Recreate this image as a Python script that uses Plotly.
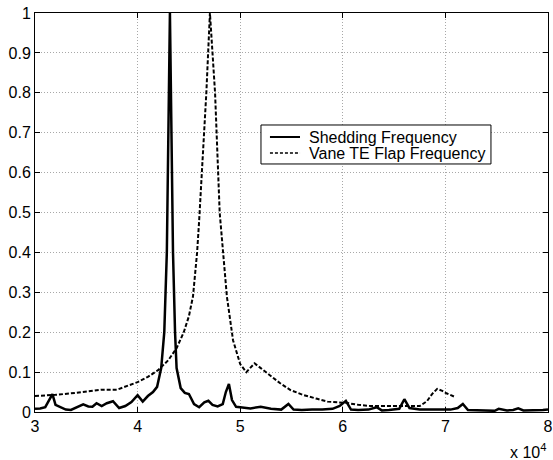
import plotly.graph_objects as go

# Frequency axis in units of 10^4
shed_freq = [3.0, 3.05, 3.1, 3.14, 3.17, 3.2, 3.25, 3.3, 3.35, 3.4, 3.47, 3.52, 3.56, 3.6,
             3.65, 3.7, 3.76, 3.82, 3.88, 3.94, 4.0, 4.05, 4.1, 4.15, 4.19, 4.23, 4.26,
             4.285, 4.3, 4.315, 4.33, 4.345, 4.365, 4.38, 4.42, 4.46, 4.5, 4.55, 4.6,
             4.65, 4.69, 4.73, 4.78, 4.83, 4.86, 4.89, 4.92, 4.96, 5.0, 5.1, 5.2, 5.3,
             5.4, 5.47, 5.52, 5.6, 5.7, 5.8, 5.9, 5.97, 6.03, 6.08, 6.15, 6.25, 6.33,
             6.38, 6.45, 6.55, 6.6, 6.65, 6.75, 6.85, 6.95, 7.05, 7.12, 7.17, 7.22, 7.3,
             7.4, 7.48, 7.52, 7.6, 7.66, 7.71, 7.76, 7.85, 7.95, 8.0]
shed_amp = [0.008, 0.009, 0.012, 0.03, 0.045, 0.018, 0.012, 0.006, 0.005, 0.01, 0.019,
            0.014, 0.013, 0.022, 0.015, 0.022, 0.027, 0.01, 0.015, 0.025, 0.042, 0.026,
            0.04, 0.05, 0.063, 0.11, 0.2, 0.4, 0.7, 1.0, 0.7, 0.4, 0.2, 0.11, 0.06,
            0.048, 0.045, 0.02, 0.012, 0.024, 0.028, 0.018, 0.014, 0.02, 0.05, 0.07,
            0.03, 0.013, 0.012, 0.009, 0.013, 0.008, 0.006, 0.02, 0.006, 0.005, 0.006,
            0.006, 0.008, 0.015, 0.028, 0.006, 0.005, 0.006, 0.012, 0.004, 0.005, 0.008,
            0.032, 0.01, 0.006, 0.006, 0.005, 0.006, 0.01, 0.02, 0.005, 0.004, 0.003,
            0.003, 0.008, 0.004, 0.005, 0.009, 0.004, 0.004, 0.005, 0.006]

flap_freq = [3.0, 3.2, 3.4, 3.6, 3.65, 3.8, 3.9, 4.0, 4.1, 4.2, 4.3, 4.38, 4.45, 4.5,
             4.54, 4.58, 4.6, 4.67, 4.705, 4.755, 4.8, 4.83, 4.87, 4.93, 5.0, 5.06,
             5.1, 5.14, 5.2, 5.3, 5.39, 5.49, 5.61, 5.75, 5.85, 6.03, 6.15, 6.27, 6.5,
             6.75, 6.82, 6.87, 6.92, 6.97, 7.01, 7.09]
flap_amp = [0.04, 0.043, 0.048, 0.055, 0.056, 0.056, 0.065, 0.075, 0.088, 0.105, 0.13,
            0.16, 0.2, 0.24, 0.29, 0.4, 0.48, 0.8, 1.0, 0.8, 0.5, 0.4, 0.29, 0.18, 0.12,
            0.1, 0.11, 0.122, 0.11, 0.09, 0.072, 0.055, 0.043, 0.033, 0.026, 0.023,
            0.018, 0.015, 0.015, 0.015, 0.027, 0.045, 0.058, 0.053, 0.047, 0.038]

series_names = ["Shedding Frequency", "Vane TE Flap Frequency"]

x_ticks = [3, 4, 5, 6, 7, 8]
y_ticks = [0, 0.1, 0.2, 0.3, 0.4, 0.5, 0.6, 0.7, 0.8, 0.9, 1]
y_tick_text = ["0", "0.1", "0.2", "0.3", "0.4", "0.5", "0.6", "0.7", "0.8", "0.9", "1"]

font = "Liberation Sans, Arial, sans-serif"
solid_style = dict(color="black", width=2.5)
dashed_style = dict(color="black", width=2, dash="4px,2px")

fig = go.Figure()
fig.add_trace(go.Scatter(x=shed_freq, y=shed_amp, mode="lines", name=series_names[0],
                         line=solid_style, showlegend=False))
fig.add_trace(go.Scatter(x=flap_freq, y=flap_amp, mode="lines", name=series_names[1],
                         line=dashed_style, showlegend=False))

axis_common = dict(showline=True, linecolor="black", linewidth=1, mirror="allticks",
                   ticks="inside", ticklen=5, tickcolor="black",
                   showgrid=True, gridcolor="#a8a8a8", griddash="1px,2px", gridwidth=1,
                   zeroline=False, automargin=False,
                   tickfont=dict(family=font, size=16, color="black"))

fig.update_xaxes(range=[3, 8], tickvals=x_ticks, ticktext=[str(v) for v in x_ticks],
                 **axis_common)
fig.update_yaxes(range=[0, 1], tickvals=y_ticks, ticktext=y_tick_text, **axis_common)

fig.add_annotation(x=1, y=0, xref="paper", yref="paper", xanchor="right", yanchor="top",
                   yshift=-27, text="x 10<sup>4</sup>", showarrow=False,
                   font=dict(family=font, size=16, color="black"))

# Legend box drawn in paper space, placed inside the plot area
box_x0, box_x1, box_top, box_bottom = 0.4405, 0.8888, 0.7193, 0.6216
sample_x0, sample_x1, text_x = 0.4580, 0.5166, 0.5322
row_y = [0.6892, 0.6491]
fig.add_shape(type="rect", xref="paper", yref="paper", x0=box_x0, x1=box_x1,
              y0=box_bottom, y1=box_top, line=dict(color="black", width=1),
              fillcolor="white", layer="above")
for name, style, ry in zip(series_names, [dict(color="black", width=2),
                                          dict(color="black", width=1.5, dash="3px,2px")],
                           row_y):
    fig.add_shape(type="line", xref="paper", yref="paper", x0=sample_x0, x1=sample_x1,
                  y0=ry, y1=ry, line=style, layer="above")
    fig.add_annotation(x=text_x, y=ry, xref="paper", yref="paper", xanchor="left",
                       yanchor="middle", text=name, showarrow=False, borderpad=0,
                       font=dict(family=font, size=16, color="black"))

fig.update_layout(
    width=553, height=460,
    margin=dict(l=35, r=5, t=13, b=48),
    paper_bgcolor="white", plot_bgcolor="white",
    showlegend=False,
)

fig.write_html("out.html")
